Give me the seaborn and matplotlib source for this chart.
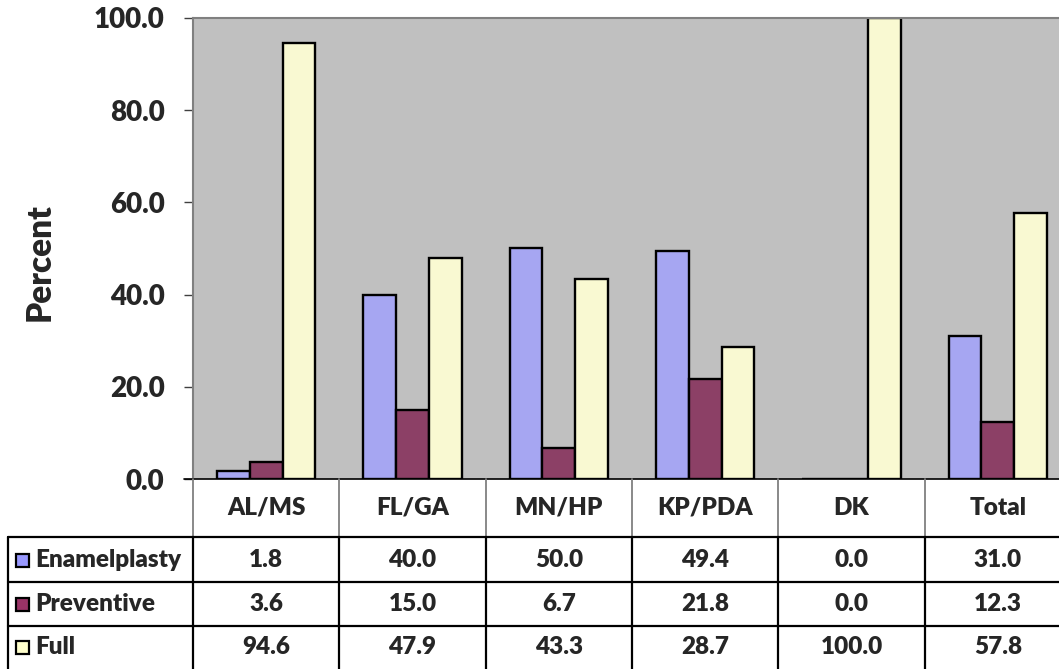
import pandas as pd
import matplotlib.pyplot as plt
import matplotlib.transforms as mtransforms
from matplotlib.lines import Line2D
from matplotlib.patches import Rectangle
import seaborn as sns

# dados
categorias = ["AL/MS", "FL/GA", "MN/HP", "KP/PDA", "DK", "Total"]
series = ["Enamelplasty", "Preventive", "Full"]
enamelplasty = [1.8, 40.0, 50.0, 49.4, 0.0, 31.0]
preventive = [3.6, 15.0, 6.7, 21.8, 0.0, 12.3]
full = [94.6, 47.9, 43.3, 28.7, 100.0, 57.8]
cores = ["#9999FF", "#993366", "#FFFFCC"]

valores = {"Enamelplasty": enamelplasty, "Preventive": preventive, "Full": full}
df = pd.DataFrame(
    [(c, s, valores[s][i]) for s in series for i, c in enumerate(categorias)],
    columns=["categoria", "serie", "valor"],
)

sns.set_style("white")
plt.rcParams["font.family"] = ["Lato", "DejaVu Sans"]
peso = 800

W, H = 1059, 669
fig = plt.figure(figsize=(W / 100, H / 100), dpi=100)
fx = lambda x: x / W
fy = lambda y: 1 - y / H

# area do grafico (passa um pouco da borda direita, como no original)
ax = fig.add_axes([fx(193), fy(479), fx(878), 461 / H])
ax.set_facecolor("#C0C0C0")

sns.barplot(data=df, x="categoria", y="valor", hue="serie", hue_order=series,
            palette=cores, width=0.67, gap=0, edgecolor="black", linewidth=1.7,
            legend=False, ax=ax)

ax.set_xlim(-0.5, 5.5)
ax.set_ylim(0, 100)
ax.set_yticks(range(0, 101, 20))
ax.set_yticklabels([f"{v:.1f}" for v in range(0, 101, 20)], fontsize=20, fontweight=peso)
ax.tick_params(axis="y", direction="out", length=6.5, width=1, color="#404040", pad=14, left=True)
ax.set_xticks([])
ax.set_xlabel("")
ax.set_ylabel("Percent", fontsize=24, fontweight=peso)
ax.yaxis.set_label_coords(-0.157, 0.47)
for lado in ["top", "left"]:
    ax.spines[lado].set_color("#808080")
    ax.spines[lado].set_linewidth(1.5)
ax.spines["bottom"].set_color("black")
ax.spines["bottom"].set_linewidth(1.2)
ax.spines["right"].set_visible(False)

# tabela de dados abaixo do grafico
tr = mtransforms.blended_transform_factory(ax.transData, fig.transFigure)
linhas_y = [537, 582, 626]
centros_y = [560, 604, 647]
tam = 17.5

# linha do eixo estendida ate o tick
fig.add_artist(Line2D([fx(184), fx(193)], [fy(479), fy(479)], color="black", lw=1.2))

for i in range(7):
    xs = i - 0.5
    fig.add_artist(Line2D([xs, xs], [fy(479), fy(537)], color="#808080", lw=1.3, transform=tr))
    fig.add_artist(Line2D([xs, xs], [fy(537), fy(669)], color="black", lw=1.6, transform=tr))
fig.add_artist(Line2D([fx(8), fx(8)], [fy(537), fy(669)], color="black", lw=1.6))
for yl in linhas_y:
    fig.add_artist(Line2D([fx(8), fx(1059)], [fy(yl), fy(yl)], color="black", lw=1.6))

for i, c in enumerate(categorias):
    fig.text(i, fy(508), c, transform=tr, ha="center", va="center", fontsize=tam, fontweight=peso)

for j, s in enumerate(series):
    yc = centros_y[j]
    fig.add_artist(Rectangle((fx(16), fy(yc + 7)), fx(13), 13 / H, facecolor=cores[j],
                             edgecolor="black", lw=1.6))
    fig.text(fx(35), fy(yc), s, ha="left", va="center", fontsize=tam, fontweight=peso)
    for i, v in enumerate(valores[s]):
        fig.text(i, fy(yc), f"{v:.1f}", transform=tr, ha="center", va="center",
                 fontsize=tam, fontweight=peso)

plt.savefig("out.png", dpi=100)
